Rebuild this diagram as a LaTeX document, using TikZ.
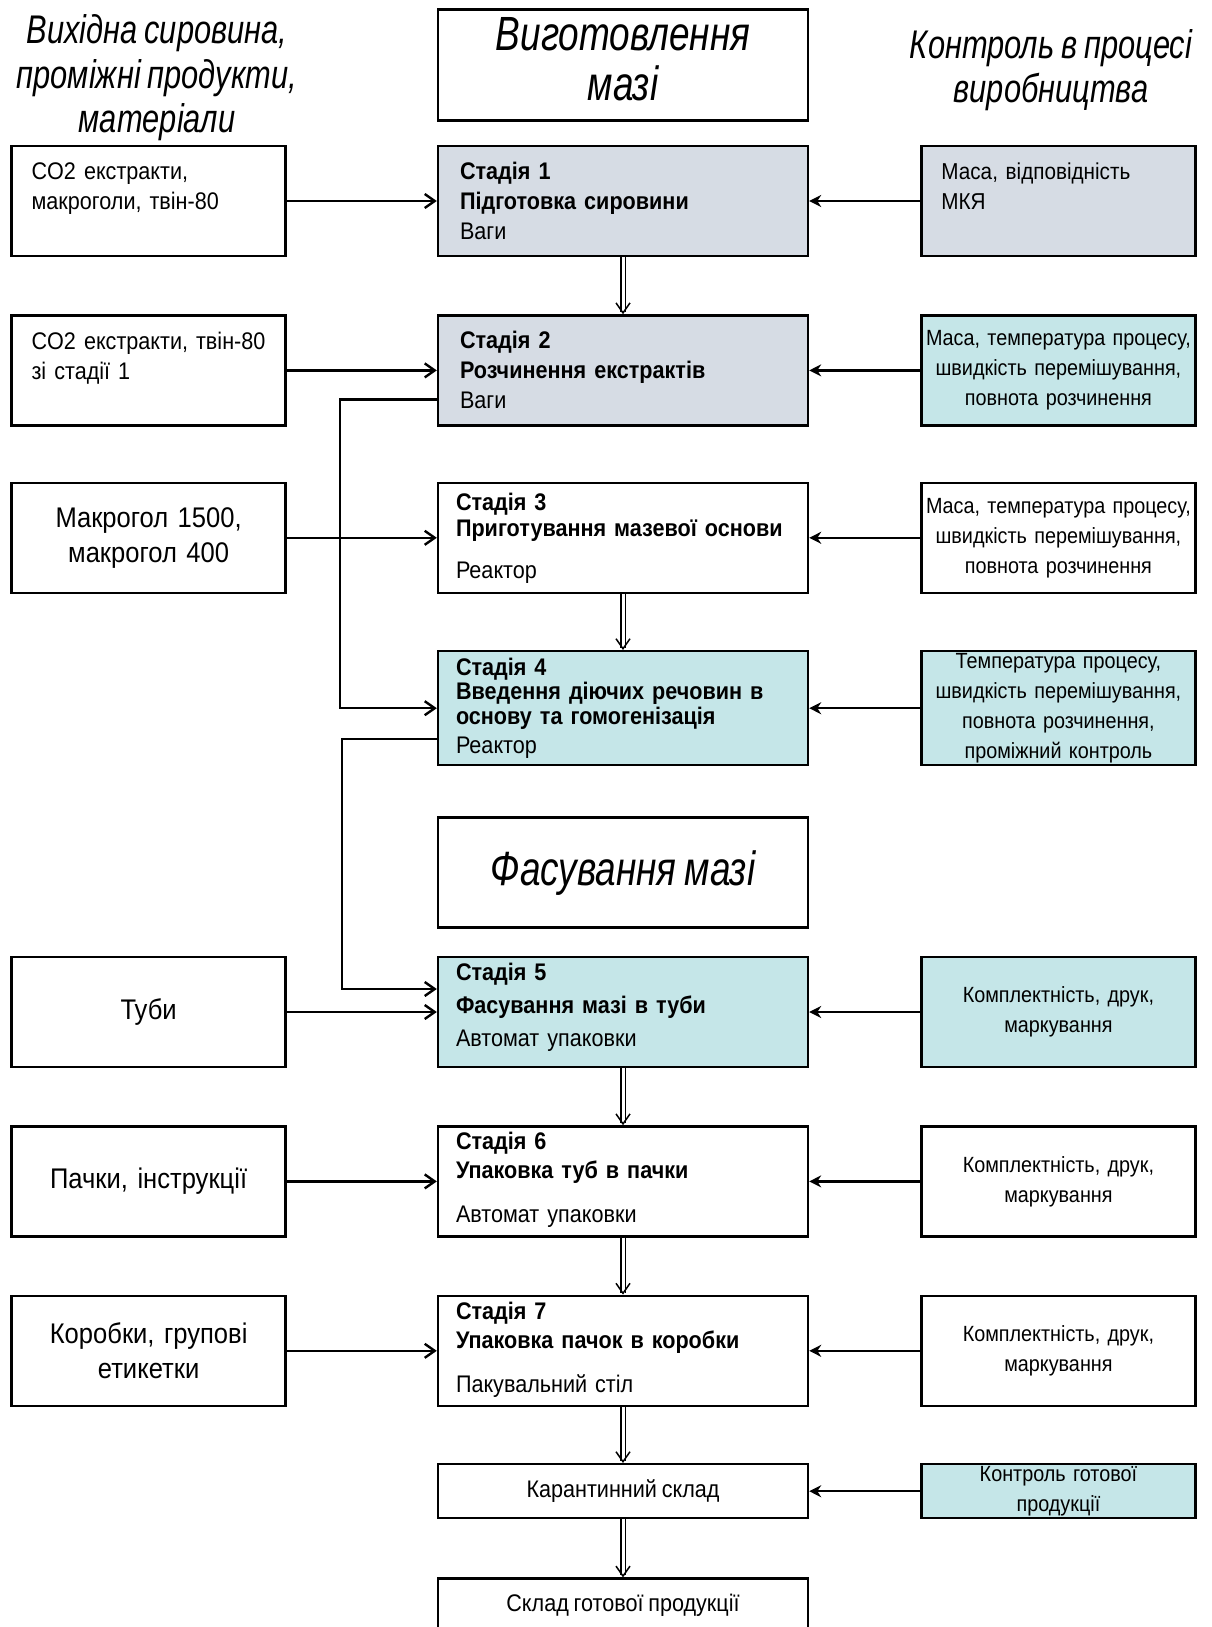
\documentclass[tikz,border=0pt]{standalone}
\usepackage{fontspec}
\setmainfont{Liberation Sans}[FakeStretch=0.9,WordSpace=0.8]
\newfontfamily\headfont{Liberation Sans}[FakeStretch=0.77,WordSpace=0.8]
\usepackage{xcolor}
\usetikzlibrary{arrows.meta}
\usetikzlibrary{positioning}
\definecolor{greyblue}{RGB}{214,220,228}
\definecolor{paleteal}{RGB}{197,230,232}

\begin{document}
\begin{tikzpicture}[x=0.5pt,y=-0.5pt,node distance=28.5pt,
    box/.style={draw,line width=1.2pt,minimum height=55pt,inner ysep=0pt,font=\fontsize{12}{15}\selectfont},
    stage/.style={box,text width=167pt,inner xsep=9pt,align=left},
    src/.style={box,minimum width=137pt,text width=117pt,inner xsep=10pt,align=center,font=\fontsize{14.2}{17.5}\selectfont},
    ctl/.style={box,minimum width=137pt,text width=137pt,inner xsep=0pt,align=center,font=\fontsize{11}{15}\selectfont},
    heading/.style={align=center,font=\headfont\fontsize{20}{22.3}\selectfont\itshape},
    feed/.style={-{Straight Barb[length=5pt,width=7pt]},line width=1.2pt},
    check/.style={-{Stealth[length=6pt,width=6pt]},line width=1.2pt},
    flow/.style={-{Straight Barb[length=5pt,width=7pt]},double,double distance=1.5pt,line width=0.75pt}]
\useasboundingbox (0,0) rectangle (1211,1627);

\node[heading] (hin) at (157,78) {Вихідна сировина,\\ проміжні продукти,\\ матеріали};
\node[heading] (hctl) at (1051,70) {Контроль в процесі\\ виробництва};

\node[stage,fill=greyblue,inner xsep=11pt,text width=163pt] (s1) at (623,201) {\textbf{Стадія 1}\\ \textbf{Підготовка сировини}\\ Ваги};
\node[box,heading,minimum width=185pt,minimum height=55.5pt,font=\headfont\fontsize{24}{25}\selectfont\itshape] (t1) [above=11.5pt of s1] {Виготовлення\\ мазі\rule[-6pt]{0pt}{6pt}};
\node[stage,fill=greyblue,inner xsep=11pt,text width=163pt] (s2) [below=28.5pt of s1] {\textbf{Стадія 2}\\ \textbf{Розчинення екстрактів}\\ Ваги};
\node[stage] (s3) [below=27.5pt of s2] {\textbf{Стадія 3}\\[-2pt] \textbf{Приготування мазевої основи}\\[6pt] Реактор};
\node[stage,fill=paleteal,minimum height=57pt] (s4) [below=28pt of s3] {\textbf{Стадія 4}\\[-3pt] \textbf{Введення діючих речовин в}\\[-2.5pt] \textbf{основу та гомогенізація}\\[-0.5pt] Реактор};
\node[box,heading,minimum width=185pt,font=\headfont\fontsize{24}{25}\selectfont\itshape] (t2) [below=25pt of s4] {Фасування мазі};
\node[stage,fill=paleteal] (s5) [below=13.5pt of t2] {\textbf{Стадія 5}\\[1.5pt] \textbf{Фасування мазі в туби}\\[1.5pt] Автомат упаковки\rule[-7pt]{0pt}{7pt}};
\node[stage] (s6) [below=28.5pt of s5] {\textbf{Стадія 6}\\[-0.5pt] \textbf{Упаковка туб в пачки}\\[7pt] Автомат упаковки\rule[-4pt]{0pt}{4pt}};
\node[stage] (s7) [below=28.5pt of s6] {\textbf{Стадія 7}\\[-0.5pt] \textbf{Упаковка пачок в коробки}\\[7pt] Пакувальний стіл\rule[-4pt]{0pt}{4pt}};
\node[box,minimum width=185pt,minimum height=27pt] (kar) [below=28pt of s7] {Карантинний склад};
\node[box,minimum width=185pt,minimum height=27pt] (sklad) [below=29pt of kar] {Склад готової продукції};

\node[src,align=left,font=\fontsize{12}{15}\selectfont] (in1) [left=75pt of s1] {CO2 екстракти,\\ макроголи, твін-80\\ ~};
\node[src,align=left,font=\fontsize{12}{15}\selectfont] (in2) [left=75pt of s2] {CO2 екстракти, твін-80\\ зі стадії 1\\ ~};
\node[src] (in3) [left=75pt of s3] {Макрогол 1500,\\ макрогол 400};
\node[src] (in5) [left=75pt of s5] {Туби};
\node[src] (in6) [left=75pt of s6] {Пачки, інструкції};
\node[src] (in7) [left=75pt of s7] {Коробки, групові\\ етикетки};

\node[ctl,fill=greyblue,align=left,inner xsep=10pt,text width=117pt,font=\fontsize{11.5}{15}\selectfont] (c1) [right=55.5pt of s1] {Маса, відповідність\\ МКЯ\\ ~};
\node[ctl,fill=paleteal] (c2) [right=55.5pt of s2] {Маса, температура процесу,\\ швидкість перемішування,\\ повнота розчинення};
\node[ctl] (c3) [right=55.5pt of s3] {Маса, температура процесу,\\ швидкість перемішування,\\ повнота розчинення};
\node[ctl,fill=paleteal,minimum height=57pt] (c4) [right=55.5pt of s4] {Температура процесу,\\ швидкість перемішування,\\ повнота розчинення,\\ проміжний контроль};
\node[ctl,fill=paleteal] (c5) [right=55.5pt of s5] {Комплектність, друк,\\ маркування};
\node[ctl] (c6) [right=55.5pt of s6] {Комплектність, друк,\\ маркування};
\node[ctl] (c7) [right=55.5pt of s7] {Комплектність, друк,\\ маркування};
\node[ctl,fill=paleteal,minimum height=27pt] (ck) [right=55.5pt of kar] {Контроль готової\\ продукції};

\path[feed]
  (in1) edge (s1)
  (in2) edge (s2)
  (in3) edge (s3)
  (in5) edge (s5)
  (in6) edge (s6)
  (in7) edge (s7);
\path[check]
  (c1) edge (s1)
  (c2) edge (s2)
  (c3) edge (s3)
  (c4) edge (s4)
  (c5) edge (s5)
  (c6) edge (s6)
  (c7) edge (s7)
  (ck) edge (kar);
\foreach \a/\b in {s1/s2,s3/s4,s5/s6,s6/s7,s7/kar,kar/sklad}
  \draw[flow] (\a) -- (\b);

\draw[feed] ([yshift=-14.5pt]s2.west) -- ++(-48.5pt,0) |- (s4.west);
\draw[feed] ([yshift=-15.5pt]s4.west) -- ++(-47.5pt,0) |- ([yshift=11.5pt]s5.west);
\end{tikzpicture}
\end{document}
